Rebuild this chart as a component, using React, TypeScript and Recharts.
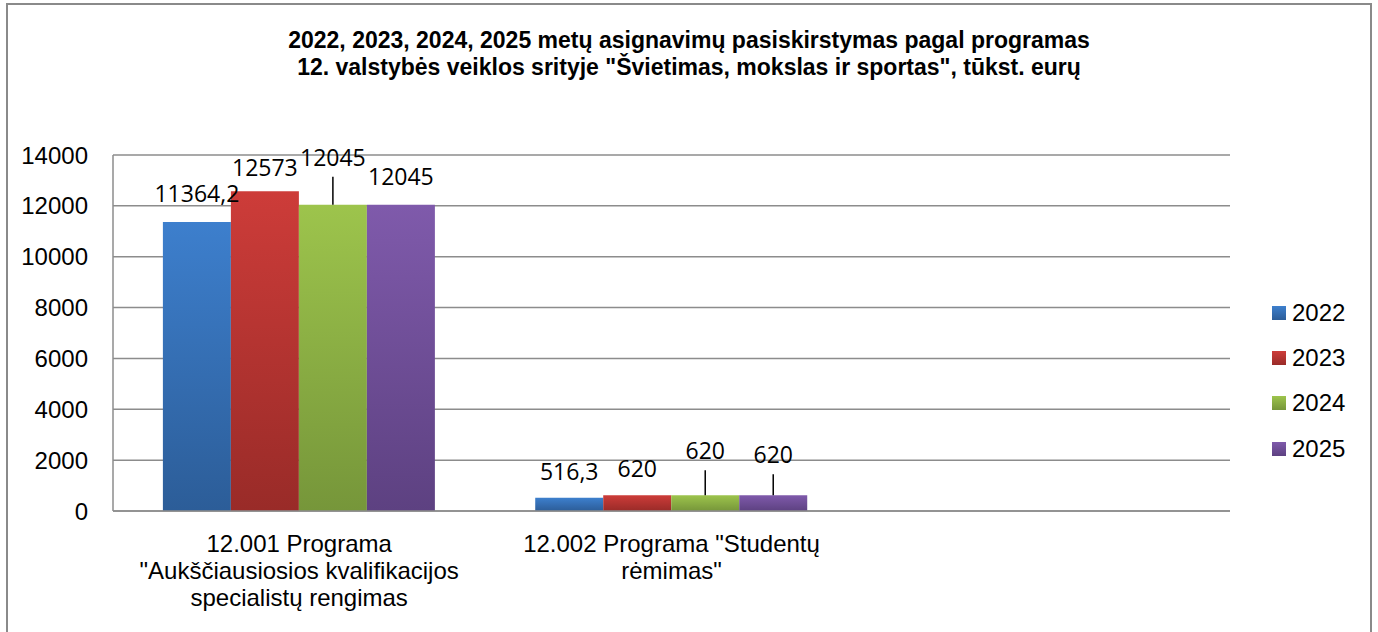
import { BarChart, Bar, XAxis, YAxis, CartesianGrid, Legend, LabelList } from 'recharts';

// x-axis categories (third slot is empty in the original chart)
const categories = [
  '12.001 Programa\n"Aukščiausiosios kvalifikacijos\nspecialistų rengimas',
  '12.002 Programa "Studentų\nrėmimas"',
  '',
];
const years = ['2022', '2023', '2024', '2025'];
const values2022 = [11364.2, 516.3, null];
const values2023 = [12573, 620, null];
const values2024 = [12045, 620, null];
const values2025 = [12045, 620, null];
const yTicks = [0, 2000, 4000, 6000, 8000, 10000, 12000, 14000];

const titleLines = [
  '2022, 2023, 2024, 2025 metų asignavimų pasiskirstymas pagal programas',
  '12. valstybės veiklos srityje "Švietimas, mokslas ir sportas", tūkst. eurų',
];

// bar colours: top / bottom of the gradient
const barColors = [
  ['#3d7fcd', '#2c5d98'],
  ['#cd3c39', '#992b28'],
  ['#9dc44c', '#76963a'],
  ['#7f5aab', '#5d4181'],
];

// how far each data label sits above its bar (px), per series / category
const labelLift = [
  [20, 18],
  [15, 18],
  [39, 36],
  [20, 32],
];

// no serif face available in the sandbox, so a regular-width sans stands in
const textFont = 'Liberation Sans, Arial, sans-serif';
const gridColor = '#8c8c8c';

const data = categories.map((name, i) => ({
  name,
  y2022: values2022[i],
  y2023: values2023[i],
  y2024: values2024[i],
  y2025: values2025[i],
}));

const fmt = (v: number) => String(v).replace('.', ',');

const makeLabel = (s: number) => (props: any) => {
  const { x, y, width, value, index } = props;
  if (value == null) return null;
  const lift = labelLift[s][index] ?? 18;
  const cx = Number(x) + Number(width) / 2;
  const top = Number(y);
  const base = top - lift;
  return (
    <g>
      {lift > 30 && (
        <line x1={cx} x2={cx} y1={base + 11} y2={top} stroke="#000" strokeWidth={1.5} />
      )}
      <text x={cx} y={base} textAnchor="middle" fontFamily="Open Sans, sans-serif" fontSize={23} fill="#000">
        {fmt(value)}
      </text>
    </g>
  );
};

const CategoryTick = (props: any) => {
  const { x, y, payload } = props;
  const lines = String(payload.value || '').split('\n');
  return (
    <text x={x} y={y} textAnchor="middle" style={{ fontFamily: textFont }} fontSize={24} fill="#000">
      {lines.map((l, i) => (
        <tspan key={i} x={x} y={y + 41 + i * 27}>
          {l}
        </tspan>
      ))}
    </text>
  );
};

const LegendBox = () => (
  <div style={{ fontFamily: textFont, fontSize: 24, color: '#000' }}>
    {years.map((yr, i) => (
      <div key={yr} style={{ display: 'flex', alignItems: 'center', height: 45.3 }}>
        <div
          style={{
            width: 14,
            height: 14,
            marginRight: 6,
            background: `linear-gradient(${barColors[i][0]}, ${barColors[i][1]})`,
          }}
        />
        <span>{yr}</span>
      </div>
    ))}
  </div>
);

export default function App() {
  return (
    <div style={{ position: 'absolute', left: 0, top: 0, width: 1378, height: 632, overflow: 'hidden', background: '#fff' }}>
      <div
        style={{
          position: 'absolute',
          left: 6,
          top: 3,
          width: 1362,
          height: 660,
          border: '2px solid #8a8a8a',
        }}
      />
      <div
        style={{
          position: 'absolute',
          left: 0,
          top: 27,
          width: 1378,
          textAlign: 'center',
          fontFamily: textFont,
          fontWeight: 'bold',
          fontSize: 23,
          lineHeight: '27px',
          color: '#000',
          zIndex: 2,
        }}
      >
        {titleLines.map((t) => (
          <div key={t}>{t}</div>
        ))}
      </div>
      <BarChart
        width={1378}
        height={632}
        data={data}
        margin={{ top: 155, right: 48, bottom: 21, left: 13 }}
        barCategoryGap="13.4%"
        barGap={0}
      >
        <defs>
          {barColors.map((c, i) => (
            <linearGradient key={i} id={`grad${i}`} x1="0" y1="0" x2="0" y2="1">
              <stop offset="0%" stopColor={c[0]} />
              <stop offset="100%" stopColor={c[1]} />
            </linearGradient>
          ))}
        </defs>
        <CartesianGrid vertical={false} stroke={gridColor} strokeWidth={1.5} />
        <XAxis
          dataKey="name"
          interval={0}
          height={100}
          tickLine={false}
          tickSize={0}
          tickMargin={0}
          axisLine={{ stroke: gridColor, strokeWidth: 1.5 }}
          tick={<CategoryTick />}
        />
        <YAxis
          domain={[0, 14000]}
          ticks={yTicks}
          width={100}
          tickLine={false}
          tickSize={0}
          tickMargin={25}
          axisLine={{ stroke: gridColor, strokeWidth: 1.5 }}
          tick={{ style: { fontFamily: textFont }, fontSize: 24, fill: '#000' }}
        />
        <Legend
          layout="horizontal"
          align="right"
          verticalAlign="middle"
          wrapperStyle={{ position: 'absolute', left: 1272, top: 290, width: 100 }}
          content={<LegendBox />}
        />
        {years.map((yr, i) => (
          <Bar key={yr} dataKey={`y${yr}`} name={yr} fill={`url(#grad${i})`} isAnimationActive={false}>
            <LabelList dataKey={`y${yr}`} content={makeLabel(i)} />
          </Bar>
        ))}
      </BarChart>
    </div>
  );
}
